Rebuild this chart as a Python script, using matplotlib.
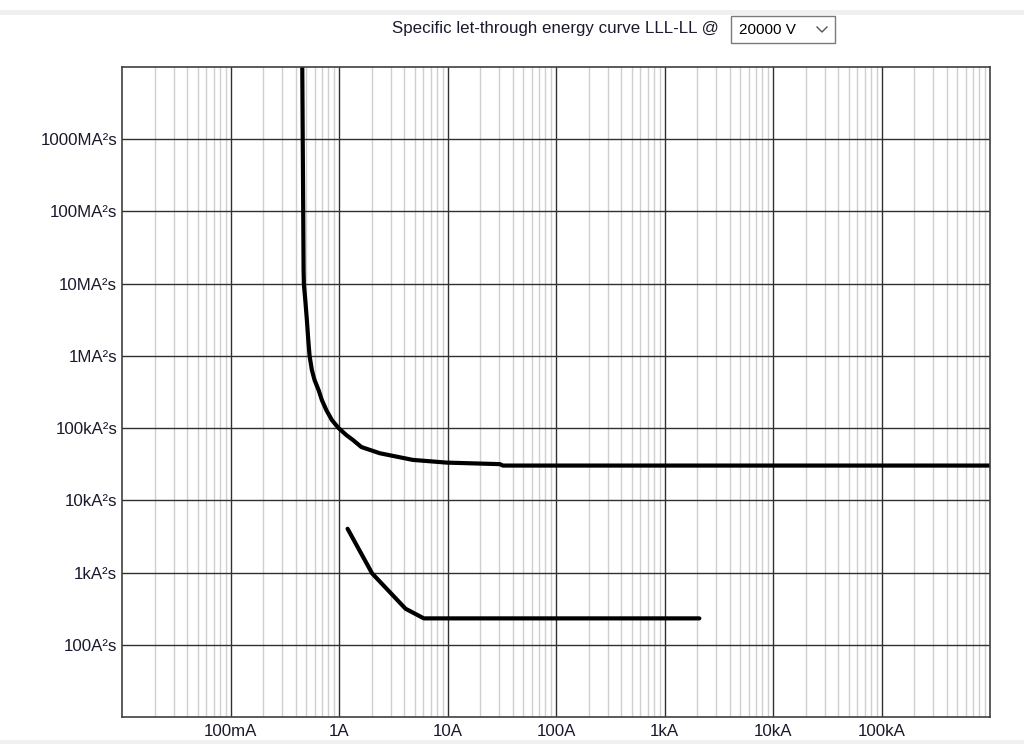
import matplotlib
matplotlib.use("Agg")
import matplotlib.pyplot as plt
from matplotlib.lines import Line2D
from matplotlib.patches import Rectangle
from matplotlib.ticker import FixedLocator, NullFormatter, LogLocator

plt.rcParams['font.family'] = ['Liberation Sans', 'DejaVu Sans']

# Curve 1 (upper let-through energy curve)
curve1_current = [0.4587, 0.4716, 0.4746, 0.489, 0.5058, 0.5212, 0.5358, 0.5626,
                  0.5957, 0.6486, 0.6957, 0.764, 0.8608, 0.9924, 1.169, 1.345,
                  1.608, 2.373, 4.785, 9.79, 30.4, 32.4, 1e6]
curve1_energy = [1e10, 1.54e7, 9.84e6, 5.91e6, 3.13e6, 1.65e6, 9.93e5, 6.35e5,
                 4.62e5, 3.36e5, 2.44e5, 1.78e5, 1.29e5, 1.0e5, 8.01e4, 6.84e4,
                 5.47e4, 4.49e4, 3.63e4, 3.33e4, 3.17e4, 3.03e4, 3.03e4]

# Curve 2 (lower let-through energy curve)
curve2_current = [1.20, 2.02, 4.10, 6.05, 2094]
curve2_energy = [4040, 973, 316, 232, 232]

x_ticks = [0.1, 1, 10, 100, 1e3, 1e4, 1e5]
x_labels = ["100mA", "1A", "10A", "100A", "1kA", "10kA", "100kA"]
y_ticks = [1e2, 1e3, 1e4, 1e5, 1e6, 1e7, 1e8, 1e9]
y_labels = ["100A²s", "1kA²s", "10kA²s", "100kA²s", "1MA²s", "10MA²s", "100MA²s", "1000MA²s"]

title_text = "Specific let-through energy curve LLL-LL @"
voltage_text = "20000 V"

W, H = 1024, 744
fig = plt.figure(figsize=(W / 100, H / 100), dpi=100)
fig.patch.set_facecolor("white")

# top and bottom gray bands
fig.add_artist(Rectangle((0, 1 - 15 / H), 1, 5 / H, transform=fig.transFigure,
                         facecolor="#f0f0f0", edgecolor="none"))
fig.add_artist(Rectangle((0, 0), 1, 4 / H, transform=fig.transFigure,
                         facecolor="#f0f0f0", edgecolor="none"))

ax = fig.add_axes([122 / W, 1 - 717 / H, (990 - 122) / W, (717 - 67) / H])
ax.set_xscale("log")
ax.set_yscale("log")
ax.set_xlim(0.01, 1e6)
ax.set_ylim(10, 1e10)

ax.xaxis.set_major_locator(FixedLocator([10.0 ** k for k in range(-2, 7)]))
ax.xaxis.set_minor_locator(LogLocator(base=10, subs=range(2, 10), numticks=100))
ax.xaxis.set_minor_formatter(NullFormatter())
ax.yaxis.set_major_locator(FixedLocator([10.0 ** k for k in range(1, 11)]))
ax.yaxis.set_minor_locator(FixedLocator([]))

ax.grid(True, which="major", color="#303030", linewidth=1.0)
ax.grid(True, which="minor", axis="x", color="#cfcfcf", linewidth=1.0)
ax.set_axisbelow(True)

ax.set_xticks(x_ticks)
ax.set_xticklabels(x_labels)
ax.set_yticks(y_ticks)
ax.set_yticklabels(y_labels)
ax.tick_params(axis="both", which="both", length=0, labelsize=12.2, colors="#1a1a2e")
ax.tick_params(axis="x", pad=5)
ax.tick_params(axis="y", pad=3.5)

for s in ax.spines.values():
    s.set_color("#404040")
    s.set_linewidth(1.2)

ax.plot(curve1_current, curve1_energy, color="black", linewidth=3.0,
        solid_joinstyle="round", solid_capstyle="butt")
ax.plot(curve2_current, curve2_energy, color="black", linewidth=3.0,
        solid_joinstyle="round", solid_capstyle="round")

# title and dropdown box
fig.text(719 / W, 1 - 29 / H, title_text, ha="right", va="center",
         fontsize=12.2, color="#1a1a2e")
fig.add_artist(Rectangle((731 / W, 1 - 43 / H), (835 - 731) / W, (43 - 16) / H,
                         transform=fig.transFigure, facecolor="white",
                         edgecolor="#7a7a7a", linewidth=1.0))
fig.text(739 / W, 1 - 30 / H, voltage_text, ha="left", va="center",
         fontsize=11, color="black")
fig.add_artist(Line2D([817 / W, 822 / W, 827 / W],
                      [1 - 27 / H, 1 - 32 / H, 1 - 27 / H],
                      transform=fig.transFigure, color="#555555", linewidth=1.0))

fig.savefig("out.png", dpi=100)
